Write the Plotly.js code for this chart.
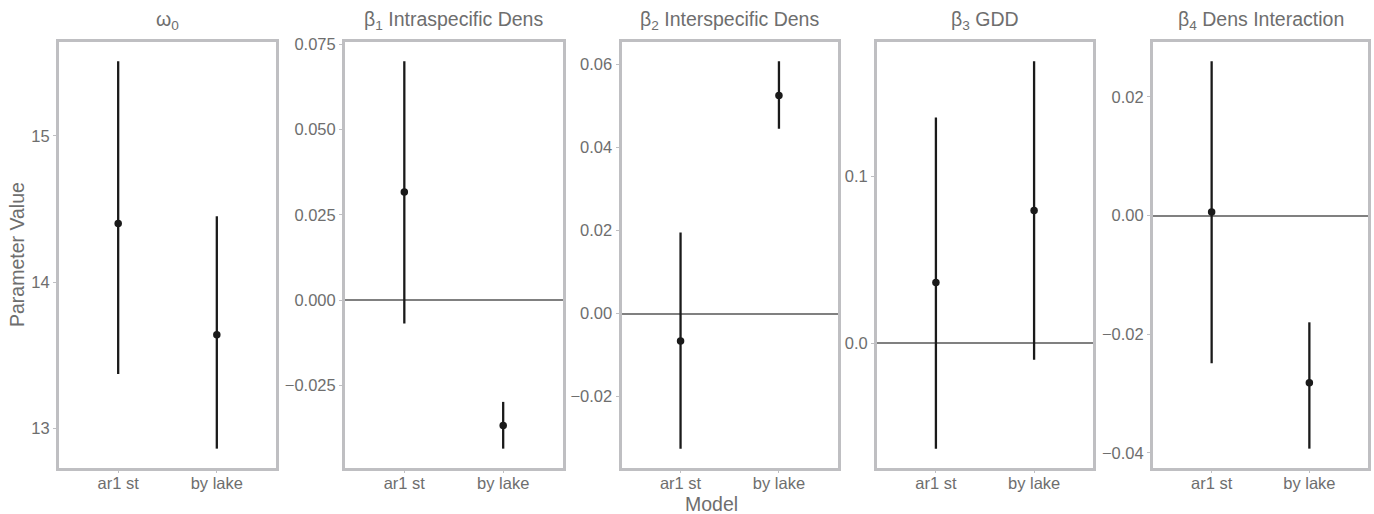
<!DOCTYPE html>
<html>
<head>
<meta charset="utf-8">
<script src="https://cdn.plot.ly/plotly-3.0.1.min.js"></script>
<style>html,body{margin:0;padding:0;background:#fff;}#chart{width:1374px;height:514px;}</style>
</head>
<body>
<div id="chart"></div>
<script>
// Data
const categories = ['ar1 st', 'by lake'];
const panelTitles = ['ω<sub>0</sub>', 'β<sub>1</sub> Intraspecific Dens', 'β<sub>2</sub> Interspecific Dens', 'β<sub>3</sub> GDD', 'β<sub>4</sub> Dens Interaction'];
const yAxisTitle = 'Parameter Value';
const xAxisTitle = 'Model';

const omega0Est = [14.40, 13.64];
const omega0Lo  = [13.37, 12.86];
const omega0Hi  = [15.51, 14.45];

const beta1Est = [0.0317, -0.0367];
const beta1Lo  = [-0.0068, -0.0435];
const beta1Hi  = [0.0700, -0.0298];

const beta2Est = [-0.0066, 0.0525];
const beta2Lo  = [-0.0325, 0.0445];
const beta2Hi  = [0.0195, 0.0607];

const beta3Est = [0.0365, 0.0797];
const beta3Lo  = [-0.0634, -0.0100];
const beta3Hi  = [0.1355, 0.1693];

const beta4Est = [0.0006, -0.0282];
const beta4Lo  = [-0.0249, -0.0393];
const beta4Hi  = [0.0260, -0.0180];

const yTickStep = [1, 0.025, 0.02, 0.1, 0.02];
const yTickFmt  = ['d', '.3f', '.2f', '.1f', '.2f'];

// Layout helpers
const panels = [
  {est: omega0Est, lo: omega0Lo, hi: omega0Hi},
  {est: beta1Est, lo: beta1Lo, hi: beta1Hi},
  {est: beta2Est, lo: beta2Lo, hi: beta2Hi},
  {est: beta3Est, lo: beta3Lo, hi: beta3Hi},
  {est: beta4Est, lo: beta4Lo, hi: beta4Hi}
];
const W = 1374, H = 514;
const boxX = [[59, 276], [345, 562.5], [621.5, 838], [877, 1093], [1153, 1368]];
const boxTop = 42, boxBot = 468;
const txtCol = '#6e6e6e';
const font = 'Liberation Sans, Arial, sans-serif';
const tickSize = 16.5, titleSize = 19.5;

const traces = [];
const layout = {
  width: W, height: H,
  margin: {l: 0, r: 0, t: 0, b: 0},
  paper_bgcolor: '#ffffff', plot_bgcolor: '#ffffff',
  showlegend: false,
  font: {family: font, color: txtCol, size: tickSize},
  annotations: []
};

panels.forEach((p, i) => {
  const sfx = i === 0 ? '' : String(i + 1);
  const xa = 'x' + sfx, ya = 'y' + sfx;
  traces.push({
    type: 'scatter', mode: 'markers',
    x: categories, y: p.est,
    xaxis: xa, yaxis: ya,
    marker: {color: '#1a1a1a', size: 7.5},
    error_y: {
      type: 'data', symmetric: false,
      array: p.hi.map((h, k) => h - p.est[k]),
      arrayminus: p.est.map((e, k) => e - p.lo[k]),
      color: '#1a1a1a', thickness: 2.3, width: 0
    },
    hoverinfo: 'x+y'
  });
  const allV = p.lo.concat(p.hi);
  const mn = Math.min(...allV), mx = Math.max(...allV);
  const pad = (mx - mn) * 0.05;
  const xDom = [boxX[i][0] / W, boxX[i][1] / W];
  const yDom = [1 - boxBot / H, 1 - boxTop / H];
  layout['xaxis' + sfx] = {
    domain: xDom, anchor: ya,
    type: 'category', range: [-0.6, 1.6],
    showgrid: false, zeroline: false,
    showline: true, mirror: true, linecolor: '#bfbfc2', linewidth: 3,
    ticks: 'outside', ticklen: 2, tickcolor: '#bfbfc2', tickwidth: 1,
    ticklabelstandoff: -4,
    tickfont: {size: tickSize, color: txtCol, family: font},
    fixedrange: true
  };
  layout['yaxis' + sfx] = {
    domain: yDom, anchor: xa,
    range: [mn - pad, mx + pad],
    dtick: yTickStep[i], tick0: 0, tickformat: yTickFmt[i],
    showgrid: false,
    zeroline: i > 0, zerolinecolor: '#808080', zerolinewidth: 1.5,
    showline: true, mirror: true, linecolor: '#bfbfc2', linewidth: 3,
    ticks: 'outside', ticklen: 3, tickcolor: '#bfbfc2', tickwidth: 1,
    tickfont: {size: tickSize, color: txtCol, family: font},
    fixedrange: true
  };
  layout.annotations.push({
    text: panelTitles[i], xref: 'paper', yref: 'paper',
    x: (xDom[0] + xDom[1]) / 2, y: 1 - 21 / H,
    xanchor: 'center', yanchor: 'middle', showarrow: false,
    font: {size: titleSize, color: txtCol, family: font}
  });
});

layout.annotations.push({
  text: yAxisTitle, xref: 'paper', yref: 'paper',
  x: 17 / W, y: 1 - 255 / H, textangle: -90,
  xanchor: 'center', yanchor: 'middle', showarrow: false,
  font: {size: titleSize, color: txtCol, family: font}
});
layout.annotations.push({
  text: xAxisTitle, xref: 'paper', yref: 'paper',
  x: 712 / W, y: 1 - 504 / H,
  xanchor: 'center', yanchor: 'middle', showarrow: false,
  font: {size: titleSize, color: txtCol, family: font}
});

Plotly.newPlot('chart', traces, layout, {displayModeBar: false});
</script>
</body>
</html>
